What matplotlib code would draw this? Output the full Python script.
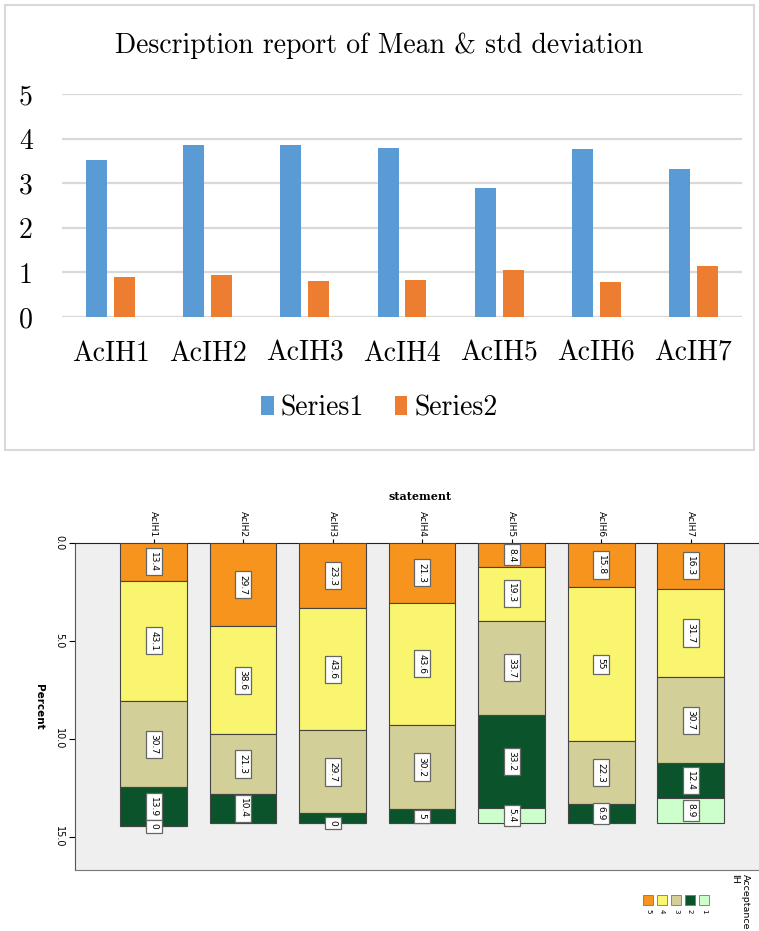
import matplotlib
matplotlib.use("Agg")
import matplotlib.pyplot as plt
import numpy as np
from matplotlib.patches import Rectangle

# ---- top chart data: mean and std deviation per statement
items = ["AcIH1", "AcIH2", "AcIH3", "AcIH4", "AcIH5", "AcIH6", "AcIH7"]
series1 = [3.52, 3.86, 3.85, 3.79, 2.89, 3.77, 3.32]
series2 = [0.89, 0.95, 0.81, 0.83, 1.05, 0.78, 1.15]

# ---- bottom chart data: percent per acceptance level
levels = ["5", "4", "3", "2", "1"]
pct5 = [13.4, 29.7, 23.3, 21.3, 8.4, 15.8, 16.3]
pct4 = [43.1, 38.6, 43.6, 43.6, 19.3, 55.0, 31.7]
pct3 = [30.7, 21.3, 29.7, 30.2, 33.7, 22.3, 30.7]
pct2 = [13.9, 10.4, 3.4, 5.0, 33.2, 6.9, 12.4]
pct1 = [0.0, 0.0, 0.0, 0.0, 5.4, 0.0, 8.9]
zero_labels = [0, 2]          # bars where the empty level 1 still gets a "0" label
pct_ticks = [0.0, 5.0, 10.0, 15.0]
bar_full = 14.3               # where 100 % ends on the Percent axis

level_colors = ["#f7941d", "#f9f56e", "#d3cf98", "#0b532b", "#ccffcc"]

W, H = 759, 931
fig = plt.figure(figsize=(W / 100, H / 100), dpi=100)


def fx(px):
    return px / W


def fy(py):
    return 1 - py / H


# outer frame of the top chart
fig.patches.append(Rectangle((fx(5), fy(450)), fx(749), 445 / H, transform=fig.transFigure,
                             fill=False, edgecolor="#d9d9d9", lw=1.5))

ax = fig.add_axes([fx(62), fy(317), fx(680), 223 / H])
x = np.arange(len(items))
b1 = ax.bar(x - 0.143, series1, width=0.216, color="#5b9bd5", label="Series1", zorder=3)
b2 = ax.bar(x + 0.143, series2, width=0.216, color="#ed7d31", label="Series2", zorder=3)
ax.set_xlim(-0.5, 6.5)
ax.set_ylim(0, 5)
ax.set_yticks(range(6))
ax.set_xticks(x)
ax.set_xticklabels(items)
ax.yaxis.grid(True, color="#d9d9d9", lw=1.6, zorder=0)
for s in ax.spines.values():
    s.set_visible(False)
ax.tick_params(axis="both", length=0, labelsize=20)
ax.tick_params(axis="y", pad=21)
ax.tick_params(axis="x", pad=17)
for lab in ax.get_xticklabels() + ax.get_yticklabels():
    lab.set_family("cmr10")
fig.text(0.5, fy(46), "Description report of Mean & std deviation", ha="center", va="center",
         family="cmr10", fontsize=20)
leg = fig.legend(handles=[b1, b2], loc="center", bbox_to_anchor=(0.5, fy(408)), ncol=2,
                 frameon=False, handlelength=0.45, handleheight=0.7, handletextpad=0.25,
                 columnspacing=1.1, prop={"family": "cmr10", "size": 20})

# ---- bottom chart (rotated stacked bars)
ax2 = fig.add_axes([fx(75), fy(870), fx(690), 327 / H])
ax2.set_facecolor("#efefef")
stack = [pct5, pct4, pct3, pct2, pct1]
bottom = np.zeros(len(items))
for lvl, vals, col in zip(levels, stack, level_colors):
    h = np.array(vals) * bar_full / 100
    ax2.bar(x, h, bottom=bottom, width=0.744, color=col, edgecolor="#444444", lw=0.8, zorder=3)
    for i, v in enumerate(vals):
        if v > 4 or (lvl == "1" and i in zero_labels):
            ypos = bottom[i] + h[i] / 2 if v > 0 else bottom[i]
            ax2.text(i, ypos, "%g" % v, rotation=-90, ha="center", va="center", fontsize=6.5,
                     zorder=5, bbox=dict(boxstyle="square,pad=0.4", fc="white", ec="#666666", lw=0.9))
    bottom += h

ax2.set_xlim(-0.879, 6.83)
ax2.set_ylim(16.7, 0)
ax2.set_yticks(pct_ticks)
ax2.set_yticklabels(["%.1f" % t for t in pct_ticks], rotation=-90, va="center")
ax2.xaxis.tick_top()
ax2.set_xticks(x)
ax2.set_xticklabels(items, rotation=-90, fontsize=6.5)
ax2.tick_params(axis="y", labelsize=7, length=4, pad=4)
ax2.tick_params(axis="x", length=3, pad=1)
ax2.spines["right"].set_visible(False)
ax2.spines["top"].set_color("#222222")
ax2.spines["left"].set_color("#555555")
ax2.spines["bottom"].set_color("#777777")
ax2.set_ylabel("Percent", rotation=-90, fontsize=7.5, fontweight="bold", labelpad=14)
fig.text(fx(420), fy(497), "statement", ha="center", va="center", fontsize=8,
         fontweight="bold", family="DejaVu Serif")

# legend of the bottom chart
for k, (lvl, col) in enumerate(zip(levels, level_colors)):
    x0 = 643 + 14 * k
    fig.patches.append(Rectangle((fx(x0), fy(905)), fx(10), 10 / H, transform=fig.transFigure,
                                 facecolor=col, edgecolor="#777777", lw=0.6))
    fig.text(fx(x0 + 5), fy(909), lvl, rotation=-90, ha="center", va="top", fontsize=5)
fig.text(fx(740), fy(874), "Acceptance\nIH", rotation=-90, ha="center", va="top", fontsize=6.8,
         multialignment="left")

fig.savefig("out.png", dpi=100)
